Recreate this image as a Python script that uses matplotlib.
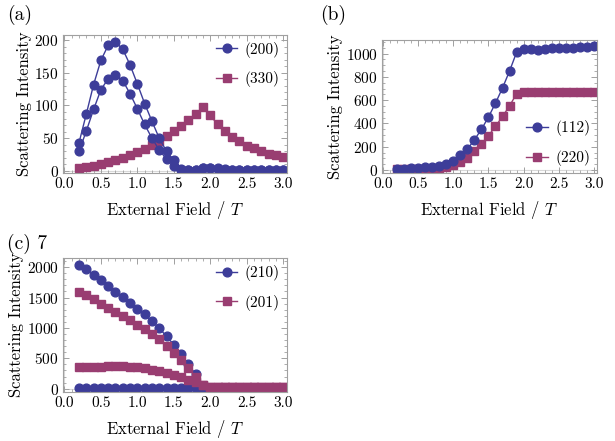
import numpy as np
import matplotlib
matplotlib.use("Agg")
from matplotlib import pyplot as plt
from matplotlib.ticker import MultipleLocator, FormatStrFormatter

plt.rcParams['font.family'] = ['cmr10', 'DejaVu Serif']
plt.rcParams['mathtext.fontset'] = 'cm'
plt.rcParams['axes.formatter.use_mathtext'] = True

# campo externo (T)
campo = [0.2, 0.3, 0.4, 0.5, 0.6, 0.7, 0.8, 0.9, 1.0, 1.1, 1.2, 1.3, 1.4, 1.5,
         1.6, 1.7, 1.8, 1.9, 2.0, 2.1, 2.2, 2.3, 2.4, 2.5, 2.6, 2.7, 2.8, 2.9, 3.0]

# panel (a)
a_200_sup = [43, 87, 132, 169, 192, 197, 186, 162, 133, 103, 76, 50, 30, 16,
             3, 1, 1, 5, 5, 4, 3, 2, 2, 2, 1, 1, 1, 1, 1]
a_200_inf = [30, 61, 94, 124, 141, 146, 138, 118, 95, 71, 50, 32, 18, 8,
             2, 1, 1, 4, 4, 3, 2, 2, 1, 1, 1, 1, 1, 1, 1]
a_330 = [4, 6, 8, 11, 14, 17, 20, 25, 29, 34, 40, 46, 53, 61,
         69, 78, 87, 97, 85, 71, 61, 52, 45, 38, 35, 30, 26, 24, 21]

# panel (b)
b_112 = [10, 12, 15, 18, 22, 27, 35, 50, 80, 125, 180, 260, 350, 455,
         575, 705, 850, 1010, 1040, 1040, 1035, 1040, 1045, 1045, 1050, 1050, 1055, 1060, 1065]
b_220 = [5, 6, 7, 8, 9, 11, 15, 25, 40, 70, 100, 160, 225, 295,
         375, 460, 550, 655, 670, 670, 670, 670, 670, 670, 670, 670, 670, 670, 670]

# panel (c)
c_210_sup = [2040, 1968, 1874, 1780, 1696, 1596, 1501, 1412, 1318, 1223, 1112, 995, 862, 723,
             567, 400, 234, 40, 10, 10, 10, 10, 10, 10, 10, 10, 10, 10, 10]
c_210_inf = [8, 8, 8, 8, 8, 8, 8, 8, 8, 8, 8, 8, 8, 8,
             8, 8, 8, 10, 10, 10, 10, 10, 10, 10, 10, 10, 10, 10, 10]
c_201_sup = [1596, 1534, 1468, 1401, 1329, 1262, 1200, 1134, 1056, 984, 901, 817, 706, 595,
             467, 345, 189, 60, 20, 20, 20, 20, 20, 20, 20, 20, 20, 20, 20]
c_201_inf = [360, 360, 360, 365, 370, 372, 372, 365, 355, 340, 315, 290, 260, 225,
             190, 150, 110, 60, 20, 20, 20, 20, 20, 20, 20, 20, 20, 20, 20]

azul = (0.24, 0.24, 0.6)
magenta = (0.6, 0.24, 0.442)
gris = '#a0a0a0'


def estilo(ax, ylim, mayor_y, menor_y):
    ax.set_xlim(-0.02, 3.05)
    ax.set_ylim(*ylim)
    ax.axhline(0, color='#d8d8d8', lw=0.8, zorder=0)
    ax.axvline(0, color='#d8d8d8', lw=0.8, zorder=0)
    ax.xaxis.set_major_locator(MultipleLocator(0.5))
    ax.xaxis.set_minor_locator(MultipleLocator(0.1))
    ax.xaxis.set_major_formatter(FormatStrFormatter('%.1f'))
    ax.yaxis.set_major_locator(MultipleLocator(mayor_y))
    ax.yaxis.set_minor_locator(MultipleLocator(menor_y))
    for s in ax.spines.values():
        s.set_color(gris)
        s.set_linewidth(0.8)
    ax.tick_params(which='both', direction='in', top=True, right=True,
                   color=gris, labelsize=11, pad=3)
    ax.tick_params(which='major', length=4, width=0.7)
    ax.tick_params(which='minor', length=2, width=0.6)
    ax.set_xlabel('External Field / $T$', fontsize=12, labelpad=6)
    ax.set_ylabel('Scattering Intensity', fontsize=12, labelpad=2)


def serie(ax, y, color, marker, label=None):
    ms = 6.3 if marker == 'o' else 5.8
    ax.plot(campo, y, color=color, marker=marker, ms=ms, lw=1.0,
            mec=color, label=label)


def leyenda(ax, textos, loc):
    h = [plt.Line2D([], [], color=azul, marker='o', ms=6.3, lw=1.0),
         plt.Line2D([], [], color=magenta, marker='s', ms=5.8, lw=1.0)]
    ax.legend(h, textos, loc=loc, frameon=False, fontsize=11,
              handlelength=1.4, labelspacing=0.9, borderaxespad=0.15,
              borderpad=0.3, handletextpad=0.5)


fig = plt.figure(figsize=(6.15, 4.41), dpi=100)

ax1 = fig.add_axes([0.1024, 0.608, 0.364, 0.313])
serie(ax1, a_330, magenta, 's')
serie(ax1, a_200_inf, azul, 'o')
serie(ax1, a_200_sup, azul, 'o')
estilo(ax1, (-3, 208), 50, 10)
leyenda(ax1, ['(200)', '(330)'], 'upper right')

ax2 = fig.add_axes([0.621, 0.608, 0.350, 0.302])
serie(ax2, b_220, magenta, 's')
serie(ax2, b_112, azul, 'o')
estilo(ax2, (-25, 1120), 200, 50)
leyenda(ax2, ['(112)', '(220)'], 'lower right')

ax3 = fig.add_axes([0.1024, 0.111, 0.364, 0.304])
serie(ax3, c_210_inf, azul, 'o')
serie(ax3, c_210_sup, azul, 'o')
serie(ax3, c_201_inf, magenta, 's')
serie(ax3, c_201_sup, magenta, 's')
estilo(ax3, (-55, 2150), 500, 100)
leyenda(ax3, ['(210)', '(201)'], 'upper right')

fig.text(0.012, 0.965, '(a)', fontsize=14, va='center')
fig.text(0.52, 0.965, '(b)', fontsize=14, va='center')
fig.text(0.012, 0.447, '(c) 7', fontsize=14, va='center')

fig.savefig('out.png', dpi=100)
